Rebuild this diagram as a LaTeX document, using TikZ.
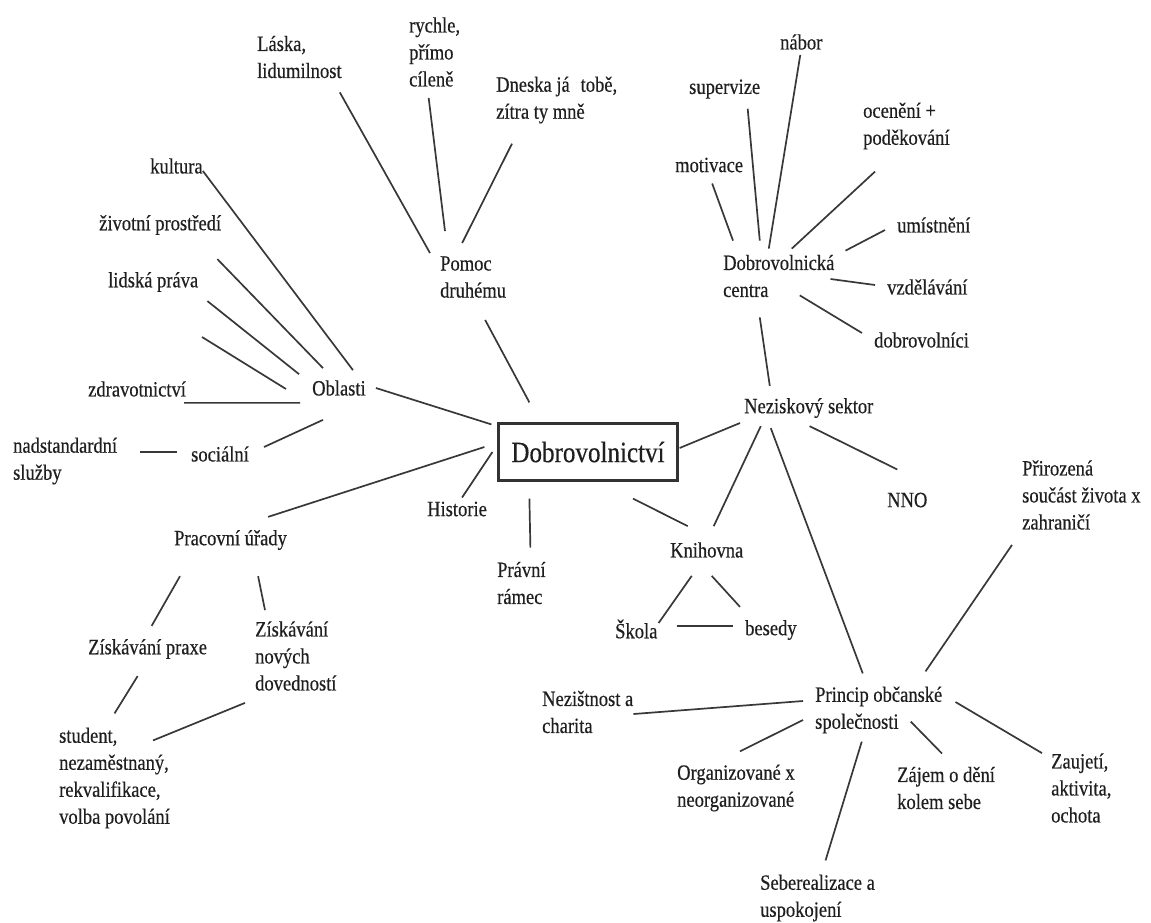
\documentclass[tikz,border=0pt]{standalone}
\usepackage{fontspec}
\setmainfont[FakeStretch=0.85,FakeBold=0.4]{Liberation Serif}
\begin{document}
\begin{tikzpicture}[x=1pt,y=-1pt,
  uzel/.style={inner sep=0pt,anchor=west,align=left,text=black!88,font=\fontsize{21.8}{27}\selectfont},
  hlavni/.style={draw=black!80,line width=2.2pt,minimum width=179pt,minimum height=57pt,inner sep=0pt,text=black!88,font=\fontsize{29.5}{32}\selectfont},
  spoj/.style={draw=black!78,line width=1.7pt}]

\useasboundingbox (0,0) rectangle (1151,922);

%Main box in the middle
\node[hlavni] (dobr) at (588,452) {Dobrovolnictví};

%Nodes for the topics - name/x/y/text
\foreach \n/\x/\y/\t in {lask/257/57/{Láska,\\lidumilnost},rych/409/52/{rychle,\\přímo\\cíleně},dnes/496/100/{Dneska já\enspace tobě,\\zítra ty mně},pomoc/440/277/{Pomoc\\druhému},
  nabor/780/42/nábor,superv/689/89/supervize,oceneni/863/126/{ocenění +\\poděkování},motiv/675/165/motivace,umist/897/225/umístnění,centra/723/276/{Dobrovolnická\\centra},vzdel/887/287/vzdělávání,dobrov/874/340/dobrovolníci,
  kult/150/166/kultura,zivot/99/225/životní prostředí,lidsk/108/282/lidská práva,zdrav/88/389/zdravotnictví,obl/312/388/Oblasti,nadst/13/461/{nadstandardní\\služby},soc/191/454/sociální,
  nezisk/744/408/Neziskový sektor,nno/887/500/NNO,priroz/1022/495/{Přirozená\\součást života x\\zahraničí},hist/427/509/Historie,prac/174/540/Pracovní úřady,knih/670/550/Knihovna,pravni/497/583/{Právní\\rámec},skola/615/629/Škola,besedy/745/630/besedy,
  zprax/88/649/Získávání praxe,znov/255/656/{Získávání\\nových\\dovedností},student/59/778/{student,\\nezaměstnaný,\\rekvalifikace,\\volba povolání},
  nezist/542/712/{Nezištnost a\\charita},princ/815/710/{Princip občanské\\společnosti},organ/677/788/{Organizované x\\neorganizované},zajem/897/788/{Zájem o dění\\kolem sebe},zauj/1051/788/{Zaujetí,\\aktivita,\\ochota},seber/760/898/{Seberealizace a\\uspokojení}}
  \node[uzel] (\n) at (\x,\y) {\t};

%Loose end of the line without a label
\coordinate (volny) at (202,337);

%Pomoc druhemu
\draw[spoj] ([shift={(-2,14)}]lask.south east) -- ([shift={(-10,-3)}]pomoc.north west);
\draw[spoj] ([shift={(-6,11)}]rych.south) -- ([shift={(5,-25)}]pomoc.north west);
\draw[spoj] ([shift={(16,20)}]dnes.south west) -- ([shift={(-11,-13)}]pomoc.north);
\draw[spoj] ([shift={(12,22)}]pomoc.south) -- ([shift={(32,-20)}]dobr.north west);

%Oblasti
\draw[spoj] ([shift={(0,5)}]kult.east) -- ([shift={(14,-10)}]obl.north);
\draw[spoj] ([shift={(-4,24)}]zivot.south east) -- ([shift={(11,-12)}]obl.north west);
\draw[spoj] ([shift={(9,9)}]lidsk.south east) -- ([shift={(-13,-6)}]obl.north west);
\draw[spoj] (volny) -- ([shift={(-26,1)}]obl.west);
\draw[spoj] ([shift={(-2,6)}]zdrav.south east) -- ([shift={(-12,7)}]obl.south west);
\draw[spoj] ([shift={(15,-7)}]soc.east) -- ([shift={(-16,24)}]obl.south);
\draw[spoj] ([shift={(23,-9)}]nadst.east) -- ([shift={(-14,-2)}]soc.west);
\draw[spoj] ([shift={(10,0)}]obl.east) -- ([shift={(-6,2)}]dobr.north west);

%Pracovni urady
\draw[spoj] ([shift={(-19,-13)}]prac.north east) -- ([shift={(-13,-5)}]dobr.west);
\draw[spoj] ([shift={(6,26)}]prac.south west) -- ([shift={(4,-13)}]zprax.north);
\draw[spoj] ([shift={(-29,26)}]prac.south east) -- ([shift={(10,-11)}]znov.north west);
\draw[spoj] ([shift={(-10,17)}]zprax.south) -- ([shift={(0,-14)}]student.north);
\draw[spoj] ([shift={(-10,12)}]znov.south west) -- ([shift={(-17,13)}]student.north east);

%Around the main box
\draw[spoj] ([shift={(-25,-4)}]hist.north east) -- ([shift={(-5,0)}]dobr.west);
\draw[spoj] ([shift={(32,17)}]dobr.south west) -- ([shift={(9,-14)}]pravni.north);
\draw[spoj] ([shift={(45,17)}]dobr.south) -- ([shift={(-19,-16)}]knih.north);
\draw[spoj] ([shift={(-4,15)}]nezisk.west) -- ([shift={(1,-4)}]dobr.east);

%Dobrovolnicka centra
\draw[spoj] ([shift={(-1,5)}]nabor.south) -- ([shift={(-10,-6)}]centra.north);
\draw[spoj] ([shift={(23,10)}]superv.south) -- ([shift={(-19,-14)}]centra.north);
\draw[spoj] ([shift={(3,11)}]motiv.south) -- ([shift={(10,-14)}]centra.north west);
\draw[spoj] ([shift={(12,22)}]oceneni.south west) -- ([shift={(13,-6)}]centra.north);
\draw[spoj] ([shift={(-12,5)}]umist.west) -- ([shift={(11,-4)}]centra.north east);
\draw[spoj] ([shift={(-12,-2)}]vzdel.west) -- ([shift={(-4,3)}]centra.east);
\draw[spoj] ([shift={(-12,-7)}]dobrov.west) -- ([shift={(21,-2)}]centra.south);
\draw[spoj] ([shift={(-19,20)}]centra.south) -- ([shift={(-39,-12)}]nezisk.north);

%Neziskovy sektor
\draw[spoj] ([shift={(-48,8)}]nezisk.south) -- ([shift={(7,-16)}]knih.north);
\draw[spoj] ([shift={(-38,10)}]nezisk.south) -- ([shift={(-16,-13)}]princ.north);
\draw[spoj] ([shift={(-64,8)}]nezisk.south east) -- ([shift={(-10,-23)}]nno.north);

%Knihovna
\draw[spoj] ([shift={(-15,18)}]knih.south) -- ([shift={(1,-6)}]skola.east);
\draw[spoj] ([shift={(5,18)}]knih.south) -- ([shift={(-5,-13)}]besedy.north west);
\draw[spoj] ([shift={(19,-3)}]skola.east) -- ([shift={(-12,-4)}]besedy.west);

%Princip obcanske spolecnosti
\draw[spoj] ([shift={(-10,15)}]priroz.south west) -- ([shift={(-17,-15)}]princ.north east);
\draw[spoj] ([shift={(0,2)}]nezist.east) -- ([shift={(-12,-9)}]princ.west);
\draw[spoj] ([shift={(4,-13)}]organ.north) -- ([shift={(-12,10)}]princ.west);
\draw[spoj] ([shift={(8,-14)}]seber.north) -- ([shift={(-17,8)}]princ.south);
\draw[spoj] ([shift={(-4,-13)}]zajem.north) -- ([shift={(32,-12)}]princ.south);
\draw[spoj] ([shift={(-9,0)}]zauj.north west) -- ([shift={(13,-8)}]princ.east);

\end{tikzpicture}
\end{document}
